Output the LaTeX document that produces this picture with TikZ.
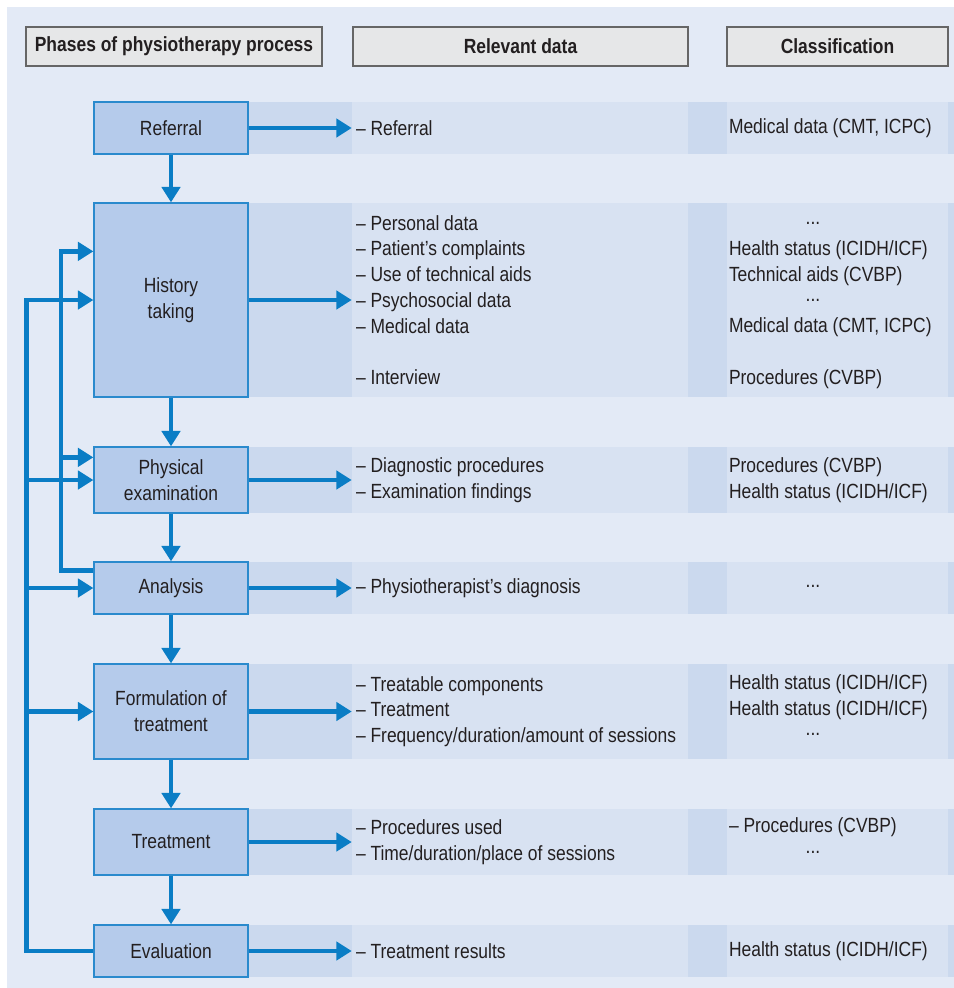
\documentclass[tikz,border=0pt]{standalone}
\usepackage{fontspec}
\setmainfont{Liberation Sans}[FakeStretch=0.85]
\usetikzlibrary{arrows.meta}

\definecolor{flowblue}{HTML}{0A7DC5}
\definecolor{edgeblue}{HTML}{2A8ACD}
\definecolor{boxblue}{HTML}{B5CBEB}
\definecolor{paneblue}{HTML}{E3EAF6}
\definecolor{rowdark}{HTML}{CBD9EE}
\definecolor{rowlight}{HTML}{D8E2F2}
\definecolor{headgray}{HTML}{E6E7E8}
\definecolor{ink}{HTML}{231F20}

\newcommand{\ddd}{\makebox[4.2cm]{\strut\raisebox{3.8pt}{...}}}

\begin{document}
\begin{tikzpicture}[
    font=\fontsize{14.6pt}{18.3pt}\selectfont,
    header/.style={draw=black!60, fill=headgray, line width=0.9pt, minimum height=0.975cm, text=ink, font=\fontsize{14.6pt}{18.3pt}\selectfont\bfseries},
    phase/.style={draw=edgeblue, fill=boxblue, line width=0.9pt, minimum width=3.85cm, align=center, text=ink},
    lane/.style={fill=rowlight, inner sep=0pt},
    entry/.style={anchor=west, align=left, inner sep=0pt, text=ink},
    flow/.style={draw=flowblue, line width=3.5pt, -{Triangle[length=11pt, width=13pt]}}
]
    \useasboundingbox (0,0) rectangle (23.85,-24.7);
    \fill[paneblue] (0.175,-0.175) rectangle (23.85,-24.7);

    \node[header, minimum width=7.4cm] (h1) at (4.35,-1.1625) {Phases of physiotherapy process};
    \node[header, minimum width=8.375cm] (h2) at (13.0125,-1.1625) {Relevant data};
    \node[header, minimum width=5.525cm] (h3) at (20.9375,-1.1625) {Classification};

    \foreach \y/\h/\phase [count=\i] in {
        -3.2/1.3/Referral,
        -7.5/4.85/{History\\taking},
        -12.0/1.65/{Physical\\examination},
        -14.7/1.3/Analysis,
        -17.7875/2.375/{Formulation of\\treatment},
        -21.05/1.65/Treatment,
        -23.775/1.3/Evaluation} {
        \fill[rowdark] (6.2,{\y+\h/2}) rectangle (23.85,{\y-\h/2});
        \node[lane, minimum width=8.4cm, minimum height=\h cm] (d\i) at (13.0,\y) {};
        \node[lane, minimum width=5.525cm, minimum height=\h cm] (c\i) at (20.9375,\y) {};
        \node[phase, minimum height=\h cm] (p\i) at (4.275,\y) {\phase};
        \draw[flow] (p\i.east) -- (d\i.west);
    }

    \foreach \i [remember=\i as \j (initially 1)] in {2,...,7}
        \draw[flow] (p\j.south) -- (p\i.north);

    \coordinate (outer) at (0.6625,0);
    \coordinate (inner) at (1.525,0);
    \coordinate (q2) at ([yshift=-1.225cm]p2.north west);
    \coordinate (q3) at ([yshift=-0.275cm]p3.north west);
    \coordinate (q4) at ([yshift=-0.225cm]p4.north west);
    \draw[flow] (q4) -| (inner |- q2) -- (q2);
    \draw[flow] (inner |- q3) -- (q3);
    \draw[flow] (p7.west) -| (outer |- p2.west) -- (p2.west);
    \foreach \i in {3,4,5}
        \draw[flow] (outer |- p\i.west) -- (p\i.west);

    \node[entry] (t1) at ([xshift=0.1cm]d1.west) {– Referral};
    \node[entry] (t2) at ([xshift=0.1cm]d2.west) {– Personal data\\– Patient’s complaints\\– Use of technical aids\\– Psychosocial data\\– Medical data\\[18.3pt]– Interview};
    \node[entry] (t3) at ([xshift=0.1cm]d3.west) {– Diagnostic procedures\\– Examination findings};
    \node[entry] (t4) at ([xshift=0.1cm]d4.west) {– Physiotherapist’s diagnosis};
    \node[entry] (t5) at ([xshift=0.1cm]d5.west) {– Treatable components\\– Treatment\\– Frequency/duration/amount of sessions};
    \node[entry] (t6) at ([xshift=0.1cm]d6.west) {– Procedures used\\– Time/duration/place of sessions};
    \node[entry] (t7) at ([xshift=0.1cm]d7.west) {– Treatment results};

    \node[entry] (k1) at ([xshift=0.05cm]c1.west) {Medical data (CMT, ICPC)};
    \node[entry] (k2) at ([xshift=0.05cm]c2.west) {\ddd\\Health status (ICIDH/ICF)\\Technical aids (CVBP)\\\ddd\\Medical data (CMT, ICPC)\\[18.3pt]Procedures (CVBP)};
    \node[entry] (k3) at ([xshift=0.05cm]c3.west) {Procedures (CVBP)\\Health status (ICIDH/ICF)};
    \node[entry] (k4) at ([xshift=0.05cm]c4.west) {\ddd};
    \node[entry] (k5) at ([xshift=0.05cm]c5.west) {Health status (ICIDH/ICF)\\Health status (ICIDH/ICF)\\\ddd};
    \node[entry] (k6) at ([xshift=0.05cm]c6.west) {– Procedures (CVBP)\\\ddd};
    \node[entry] (k7) at ([xshift=0.05cm]c7.west) {Health status (ICIDH/ICF)};
\end{tikzpicture}
\end{document}
